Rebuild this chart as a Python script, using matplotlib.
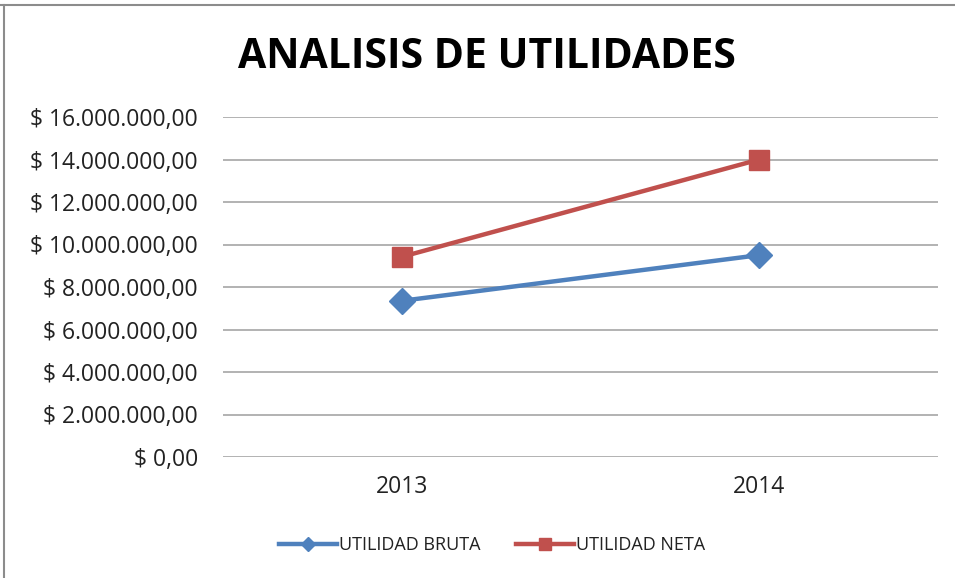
import matplotlib
matplotlib.use("Agg")
import matplotlib.pyplot as plt
from matplotlib.lines import Line2D
from matplotlib.ticker import FuncFormatter

years = ["2013", "2014"]
utilidad_bruta = [7350000, 9500000]
utilidad_neta = [9420000, 14000000]
y_ticks = [0, 2000000, 4000000, 6000000, 8000000, 10000000, 12000000, 14000000, 16000000]

plt.rcParams['font.family'] = ['Open Sans', 'DejaVu Sans']

fig = plt.figure(figsize=(9.55, 5.78), dpi=100)
ax = fig.add_axes([223/955, 1-457/578, (938-223)/955, (457-117)/578])

x = list(range(len(years)))
ax.plot(x, utilidad_bruta, color="#4F81BD", lw=3.2, marker="D", markersize=13,
        markeredgecolor="#4F81BD", label="UTILIDAD BRUTA", solid_capstyle="round")
ax.plot(x, utilidad_neta, color="#C0504D", lw=3.2, marker="s", markersize=15,
        markeredgecolor="#C0504D", label="UTILIDAD NETA", solid_capstyle="round")

ax.set_xlim(-0.5, 1.5)
ax.set_ylim(0, 16000000)
ax.set_yticks(y_ticks)
def fmt(v, pos):
    if v == 0:
        return "$ 0,00"
    s = f"{int(v):,}".replace(",", ".")
    return f"$ {s},00"
ax.yaxis.set_major_formatter(FuncFormatter(fmt))
ax.set_xticks(x)
ax.set_xticklabels(years)
ax.tick_params(axis='y', length=0, pad=18, labelsize=16.5, labelcolor="#222222")
ax.tick_params(axis='x', length=0, pad=13, labelsize=16.5, labelcolor="#222222")
ax.grid(axis='y', color="#A6A6A6", lw=1.2)
ax.set_axisbelow(True)
for s in ax.spines.values():
    s.set_visible(False)

fig.text(487/955, 1-58/578, "ANALISIS DE UTILIDADES", ha="center", va="center",
         fontsize=29.5, fontweight="bold", color="black")

handles = [Line2D([], [], color="#4F81BD", lw=3.2, marker="D", markersize=7),
           Line2D([], [], color="#C0504D", lw=3.2, marker="s", markersize=8)]
fig.legend(handles, ["UTILIDAD BRUTA", "UTILIDAD NETA"], loc="center",
           bbox_to_anchor=(492/955, 1-545/578), ncol=2, frameon=False,
           fontsize=13, handlelength=3.2, handletextpad=0.1, columnspacing=2.0,
           labelcolor="#222222")

fig.add_artist(Line2D([0, 1], [1-4.5/578, 1-4.5/578], color="#8C8C8C", lw=1.5))
fig.add_artist(Line2D([3.5/955, 3.5/955], [0, 1-4.5/578], color="#8C8C8C", lw=1.5))

fig.savefig("out.png", dpi=100)
